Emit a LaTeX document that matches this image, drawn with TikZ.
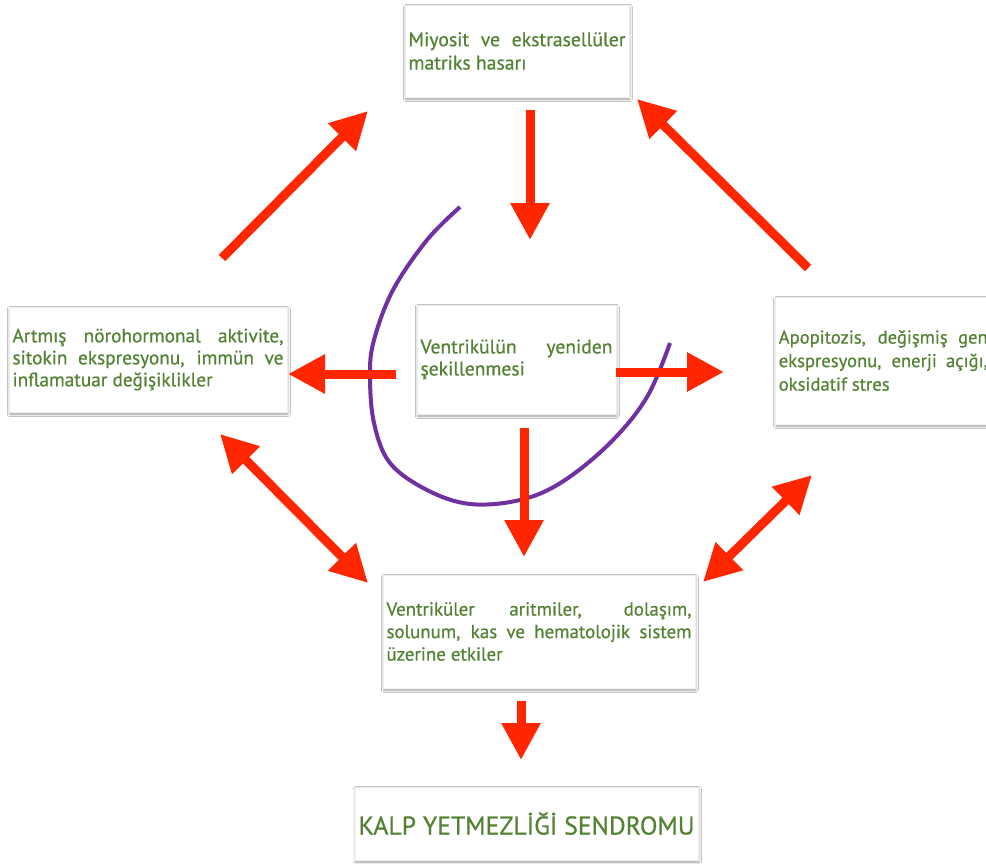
\documentclass[tikz,border=0pt]{standalone}
\usepackage{fontspec}
\setmainfont{PT Sans}[FakeBold=0.6]
\usetikzlibrary{arrows.meta,shadows.blur}
\definecolor{txtgreen}{RGB}{84,130,53}
\definecolor{arrred}{RGB}{255,38,0}
\definecolor{curvepurple}{RGB}{112,48,160}
\newcommand{\boxfont}[2]{\fontsize{#1}{#2}\selectfont\hyphenpenalty=10000 \tolerance=10000 \hfuzz=20pt }
\tikzset{
  box/.style={fill=white, draw=black!7, line width=0.5pt, inner xsep=3.5pt, inner ysep=0pt,
    align=justify, text=txtgreen,
    blur shadow={shadow xshift=0.8pt, shadow yshift=-2pt, shadow blur radius=2.5pt, shadow opacity=40}},
  redarrow/.style={draw=arrred, line width=9pt, -{Triangle[length=37pt,width=37pt]}},
  redboth/.style={draw=arrred, line width=9pt, {Triangle[length=37pt,width=37pt]}-{Triangle[length=37pt,width=37pt]}},
  curveline/.style={draw=curvepurple, line width=4pt},
}
\begin{document}
\begin{tikzpicture}[x=1pt,y=-1pt]
\clip (0,0) rectangle (986,863);
\fill[white] (0,0) rectangle (986,863);

% boxes
\node[box, font={\boxfont{19.7}{23.3}}, minimum width=224pt, minimum height=92pt, text width=217pt] (top) at (517,51)
  {Miyosit ve ekstrasellüler\linebreak matriks hasarı};
\node[box, font={\boxfont{19.3}{22}}, minimum width=278pt, minimum height=105pt, text width=271pt] (left) at (148,359.5)
  {Artmış nörohormonal aktivite,\linebreak sitokin ekspresyonu, immün ve\linebreak inflamatuar değişiklikler};
\node[box, font={\boxfont{19.6}{22}}, minimum width=199pt, minimum height=109pt, text width=192pt] (center) at (516.5,359.5)
  {Ventrikülün yeniden\linebreak şekillenmesi};
\node[box, font={\boxfont{18.6}{23.5}}, anchor=west, minimum height=127pt, text width=209pt] (right) at (775,360.5)
  {Apopitozis, değişmiş gen\linebreak ekspresyonu, enerji açığı,\linebreak oksidatif stres};
\node[box, font={\boxfont{18.9}{22.5}}, minimum width=312pt, minimum height=113pt, text width=305pt] (bottom) at (539,631.5)
  {Ventriküler aritmiler, dolaşım,\linebreak solunum, kas ve hematolojik sistem\linebreak üzerine etkiler};
\node[box, align=center, font={\fontsize{25.7}{30}\selectfont}, minimum width=343pt, minimum height=73pt] (final) at (526.5,823.5)
  {KALP YETMEZLİĞİ SENDROMU};

% purple curve
\draw[curveline] plot[smooth, tension=0.6] coordinates {(460,207) (427,240) (393,290) (374,340) (370,375) (374,423) (390,463) (427,490) (470,504) (520,500) (562,482) (610,443) (647,397) (670,343)};

% arrow end points
\coordinate (a1s) at (530,110);  \coordinate (a1e) at (530,240);
\coordinate (a2s) at (222,258);  \coordinate (a2e) at (368,111);
\coordinate (a3s) at (808,268);  \coordinate (a3e) at (637,99);
\coordinate (a4s) at (396,374);  \coordinate (a4e) at (288,374);
\coordinate (a5s) at (616,372);  \coordinate (a5e) at (724,372);
\coordinate (a6s) at (524,428);  \coordinate (a6e) at (524,557);
\coordinate (a7s) at (220,434);  \coordinate (a7e) at (368,583);
\coordinate (a8s) at (812,475);  \coordinate (a8e) at (703,582);
\coordinate (a9s) at (521,701);  \coordinate (a9e) at (521,760);

\draw[redarrow] (a1s) -- (a1e);
\draw[redarrow] (a2s) -- (a2e);
\draw[redarrow] (a3s) -- (a3e);
\draw[redarrow] (a4s) -- (a4e);
\draw[redarrow] (a5s) -- (a5e);
\draw[redarrow] (a6s) -- (a6e);
\draw[redboth] (a7s) -- (a7e);
\draw[redboth] (a8s) -- (a8e);
\draw[redarrow] (a9s) -- (a9e);
\end{tikzpicture}
\end{document}
